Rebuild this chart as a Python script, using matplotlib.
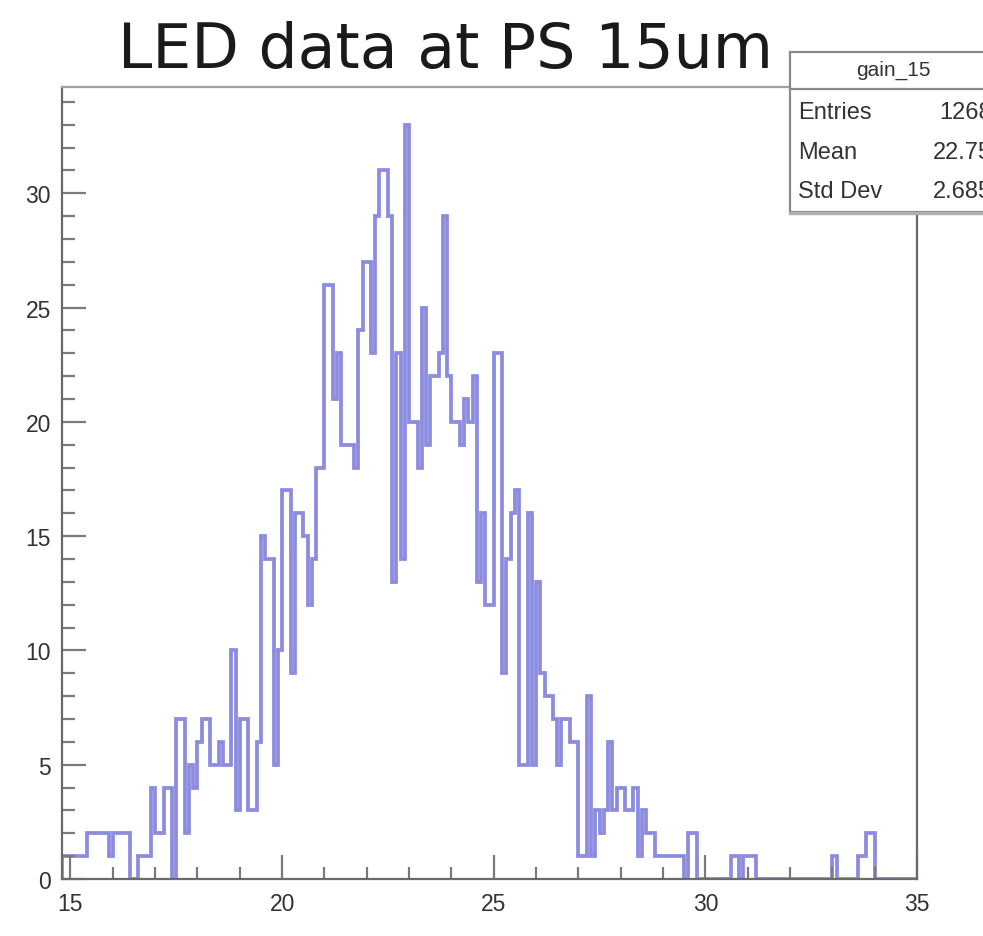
import matplotlib
matplotlib.use("Agg")
import matplotlib.pyplot as plt
from matplotlib.patches import Rectangle
from matplotlib.ticker import MultipleLocator
import numpy as np

# gain_15 histogram, 0.1 wide bins starting at 14.8
x_lo = 14.8
bin_w = 0.1
counts = [
    1, 1, 1, 1, 1, 1, 2, 2, 2, 2,
    2, 1, 2, 2, 2, 2, 0, 0, 1, 1,
    1, 4, 2, 2, 4, 4, 0, 7, 7, 2,
    5, 4, 6, 7, 7, 5, 5, 6, 5, 5,
    10, 3, 7, 7, 3, 3, 6, 15, 14, 14,
    5, 10, 17, 17, 9, 16, 16, 15, 12, 14,
    18, 18, 26, 26, 21, 23, 19, 19, 19, 18,
    24, 27, 27, 23, 29, 31, 31, 29, 13, 23,
    14, 33, 20, 20, 18, 25, 19, 22, 22, 23,
    29, 22, 20, 20, 19, 21, 20, 22, 13, 16,
    12, 12, 23, 23, 9, 14, 16, 17, 5, 5,
    16, 5, 13, 9, 8, 8, 7, 5, 7, 7,
    6, 6, 1, 1, 8, 1, 3, 2, 3, 6,
    3, 4, 4, 3, 3, 4, 1, 3, 2, 2,
    1, 1, 1, 1, 1, 1, 1, 0, 2, 2,
    0, 0, 0, 0, 0, 0, 0, 0, 1, 1,
    0, 1, 1, 1, 0, 0, 0, 0, 0, 0,
    0, 0, 0, 0, 0, 0, 0, 0, 0, 0,
    0, 0, 1, 0, 0, 0, 0, 0, 1, 1,
    2, 2, 0, 0, 0, 0, 0, 0, 0, 0,
    0, 0,
]
edges = x_lo + bin_w * np.arange(len(counts) + 1)

title = "LED data at PS 15um"
hist_name = "gain_15"
stat_names = ["Entries", "Mean", "Std Dev"]
stat_values = ["1268", "22.75", "2.685"]

fig = plt.figure(figsize=(9.83, 9.37), dpi=100)
ax = fig.add_axes([0.0631, 0.0608, 0.8698, 0.8453])

ax.stairs(counts, edges, color="#8b8be0", lw=2.7)

ax.set_xlim(x_lo, 35)
ax.set_ylim(0, 34.65)
ax.xaxis.set_major_locator(MultipleLocator(5))
ax.xaxis.set_minor_locator(MultipleLocator(1))
ax.yaxis.set_major_locator(MultipleLocator(5))
ax.yaxis.set_minor_locator(MultipleLocator(1))

ax.tick_params(which="both", direction="in", color="#7a7a7a", width=1.6,
               top=False, right=False)
ax.tick_params(which="major", length=17)
ax.tick_params(which="minor", length=9)
ax.tick_params(axis="y", pad=8)
ax.tick_params(axis="x", pad=9)
for lab in ax.get_xticklabels() + ax.get_yticklabels():
    lab.set_family(["Liberation Sans Narrow", "Liberation Sans"])
    lab.set_fontsize(16.5)
    lab.set_color("#333333")

for side in ["left", "bottom", "top", "right"]:
    ax.spines[side].set_color("#6a6a6a")
    ax.spines[side].set_linewidth(1.6)
ax.spines["top"].set_color("#a0a0a0")

fig.text(118 / 983, 0.927, title, fontsize=44.5, family="DejaVu Sans",
         color="#1a1a1a", ha="left", va="baseline")

# stats box in the top-right corner
box = Rectangle((0.8037, 0.7727), 0.25, 0.1707, transform=fig.transFigure,
                facecolor="white", edgecolor="#8a8a8a", lw=1.6, zorder=5)
fig.patches.append(box)
fig.add_artist(plt.Line2D([0.8037, 1.0], [0.904, 0.904],
                          transform=fig.transFigure, color="#8a8a8a",
                          lw=1.6, zorder=6))
fig.add_artist(plt.Line2D([0.8037, 1.0], [0.7717, 0.7717],
                          transform=fig.transFigure, color="#b0b0b0",
                          lw=2.5, zorder=6))
stat_font = ["Liberation Sans Narrow", "Liberation Sans"]
fig.text(0.9084, 0.9253, hist_name, fontsize=15, family=stat_font,
         color="#333333", ha="center", va="center", zorder=7)
for i, (nm, val) in enumerate(zip(stat_names, stat_values)):
    y = 0.8794 - i * 0.0422
    fig.text(0.8118, y, nm, fontsize=17, family=stat_font,
             color="#333333", ha="left", va="center", zorder=7)
    fig.text(1.0092, y, val, fontsize=17, family=stat_font,
             color="#333333", ha="right", va="center", zorder=7)

fig.savefig("out.png", dpi=100)
